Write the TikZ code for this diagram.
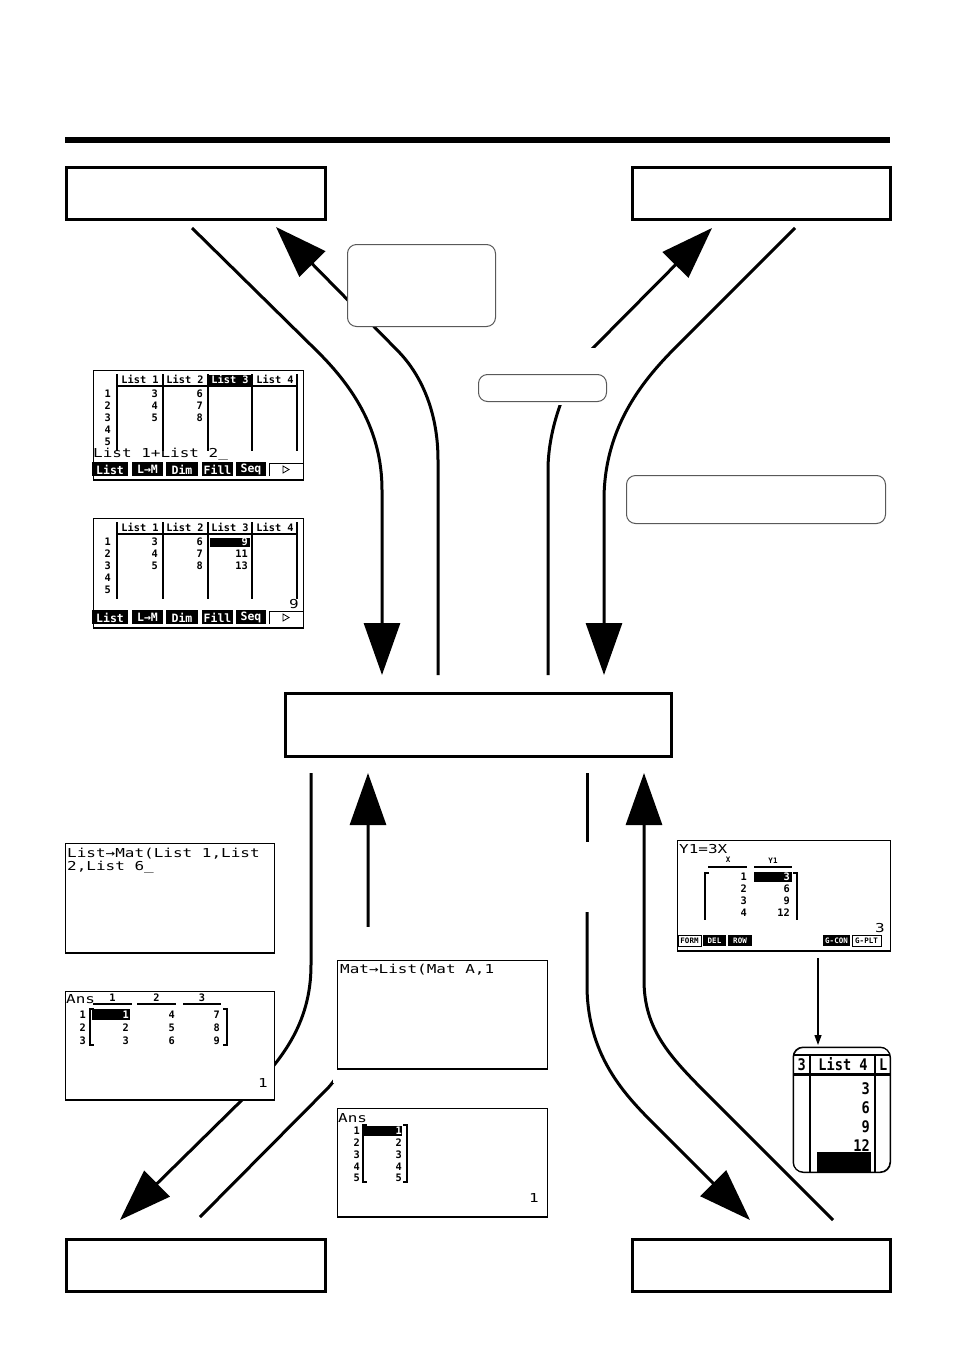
\documentclass[tikz,border=0pt]{standalone}
\usepackage{fontspec}
\usetikzlibrary{arrows.meta}
\newfontfamily\calcL[FakeStretch=1.3]{DejaVu Sans Mono}
\newfontfamily\calcS{DejaVu Sans Mono}
\newfontfamily\calcN[FakeStretch=0.85]{DejaVu Sans Mono}

\tikzset{
 bigtxt/.style={font=\calcL\fontsize{12.3}{12.3}\selectfont, inner sep=0pt},
 smtxt/.style={font=\calcS\bfseries\fontsize{10.3}{10.3}\selectfont, inner sep=0pt},
 tinytxt/.style={font=\calcS\bfseries\fontsize{7.5}{7.5}\selectfont, inner sep=0pt},
 keytxt/.style={font=\calcS\bfseries\fontsize{11.5}{11.5}\selectfont, inner sep=0pt, text=white},
 zoomtxt/.style={font=\calcN\bfseries\fontsize{16}{16}\selectfont, inner sep=0pt},
 mainbox/.style={draw, line width=3pt, fill=white, inner sep=0pt, anchor=north west},
 softbox/.style={draw=black!65, line width=1pt, rounded corners=9pt, fill=white, inner sep=0pt, anchor=north west},
 screen/.style={draw, line width=0.9pt, fill=white, inner sep=0pt, anchor=north west},
 flow/.style={line width=3pt},
 bighead/.style={-{Triangle[length=52pt,width=36pt]}},
 grid/.style={line width=1.3pt},
 thickrule/.style={line width=2pt},
 inv/.style={text=white},
}

% list editor screen (coordinates of the upper one)
\newcommand\listscreen[1]{%
 \node[screen, minimum width=210pt, minimum height=109pt] (#1) at (93,370) {};
 \draw[line width=2.5pt] (#1.south west) -- (#1.south east);
 \foreach \x in {117,163,208,252,297} \draw[grid] (\x,374) -- (\x,451);
 \draw[thickrule] (117,386) -- (297,386);
 \node[smtxt, anchor=base] (#1h1) at (140,383) {List 1};
 \node[smtxt, anchor=base] (#1h2) at (185,383) {List 2};
 \node[smtxt, anchor=base] (#1h4) at (275,383) {List 4};
 \foreach \i in {1,...,5} \node[smtxt, anchor=east] (#1r\i) at (111,{394+12*(\i-1)}) {\i};
 \foreach \v [count=\i] in {3,4,5} \node[smtxt, anchor=east] (#1a\i) at (158,{394+12*(\i-1)}) {\v};
 \foreach \v [count=\i] in {6,7,8} \node[smtxt, anchor=east] (#1b\i) at (203,{394+12*(\i-1)}) {\v};
 \foreach \a/\b/\t [count=\k] in {92/128/List,132/163/L→M,166/198/Dim,202/233/Fill,236/266/Seq}{
   \fill (\a,462) rectangle (\b,476);
   \node[keytxt] (#1k\k) at ({(\a+\b)/2},469.5) {\t};}
 \draw[line width=1pt] (269,476) -- (269,463) -- (303,463);
 \draw[line width=0.8pt] (283,466) -- (289,469.5) -- (283,473) -- cycle;
}

\begin{document}
\begin{tikzpicture}[x=1pt,y=-1pt]
\fill[white] (0,0) rectangle (954,1355);
\useasboundingbox (0,0) rectangle (954,1355);

\coordinate (rule0) at (65,140);
\coordinate (rule1) at (890,140);
\draw[line width=6pt] (rule0) -- (rule1);

% ---------- upper flows
\coordinate (a0) at (192,228); \coordinate (a1) at (382,675);
\draw[flow,bighead] (a0) -- (318,352) .. controls (353,387) and (382,430) .. (382,490) -- (a1);
\coordinate (b0) at (438,675); \coordinate (b1) at (276,227);
\draw[flow,bighead] (b0) -- (438,460) .. controls (438,410) and (420,373) .. (397,350) -- (b1);
\coordinate (c0) at (548,675); \coordinate (c1) at (712,228);
\draw[flow,bighead] (c0) -- (548,470) .. controls (548,425) and (569,372) .. (594,347) -- (c1);
\coordinate (d0) at (795,228); \coordinate (d1) at (604,675);
\draw[flow,bighead] (d0) -- (675,348) .. controls (640,383) and (604,430) .. (604,500) -- (d1);

% ---------- lower flows
\coordinate (e0) at (311,773); \coordinate (e1) at (120,1220);
\draw[flow,bighead] (e0) -- (311,965) .. controls (311,1025) and (280,1062) .. (245,1097) -- (e1);
\coordinate (f0) at (200,1217); \coordinate (f1) at (368,773);
\draw[flow,bighead] (f0) -- (328,1088) .. controls (353,1060) and (368,1010) .. (368,960) -- (f1);
\coordinate (g0) at (587,773); \coordinate (g1) at (587,842);
\draw[flow] (g0) -- (g1);
\coordinate (g2) at (587,912); \coordinate (g3) at (750,1220);
\draw[flow,bighead] (g2) -- (587,985) .. controls (587,1060) and (630,1100) .. (660,1130) -- (g3);
\coordinate (h0) at (833,1220); \coordinate (h1) at (644,773);
\draw[flow,bighead] (h0) -- (710,1097) .. controls (670,1057) and (644,1030) .. (644,980) -- (h1);

% gaps
\fill[white] (474,348) rectangle (612,405);
\fill[white] (333,927) rectangle (552,1083);

% ---------- boxes
\node[mainbox, minimum width=259pt, minimum height=52pt] (tl) at (65,166) {};
\node[mainbox, minimum width=258pt, minimum height=52pt] (tr) at (631,166) {};
\node[mainbox, minimum width=386pt, minimum height=63pt] (ctr) at (284,692) {};
\node[mainbox, minimum width=259pt, minimum height=52pt] (bl) at (65,1238) {};
\node[mainbox, minimum width=258pt, minimum height=52pt] (br) at (631,1238) {};
\node[softbox, minimum width=148pt, minimum height=82pt] (sb1) at (347,244) {};
\node[softbox, minimum width=128pt, minimum height=27pt] (sb2) at (478,374) {};
\node[softbox, minimum width=259pt, minimum height=48pt] (sb3) at (626,475) {};

% ---------- screen 1
\listscreen{sa}
\fill (209,375) rectangle (252,385);
\node[smtxt, anchor=base, inv] (sah3) at (230,383) {List 3};
\node[bigtxt, anchor=base west] (sacmd) at (93,457) {List 1+List 2\_};

% ---------- screen 2
\begin{scope}[shift={(0,148)}]
\listscreen{sb}
\node[smtxt, anchor=base] (sbh3) at (230,383) {List 3};
\fill (210,389.5) rectangle (250,399);
\node[smtxt, anchor=east, inv] (sbc1) at (248,394) {9};
\node[smtxt, anchor=east] (sbc2) at (248,406) {11};
\node[smtxt, anchor=east] (sbc3) at (248,418) {13};
\node[bigtxt, anchor=base east] (sbans) at (299,460) {9};
\end{scope}

% ---------- screen 3
\node[screen, minimum width=209pt, minimum height=109pt] (sc) at (65,843) {};
\draw[line width=2.5pt] (sc.south west) -- (sc.south east);
\node[bigtxt, anchor=base west] (sc1) at (67,857) {List→Mat(List 1,List};
\node[bigtxt, anchor=base west] (sc2) at (67,870) {2,List 6\_};

% ---------- screen 4
\node[screen, minimum width=209pt, minimum height=108pt] (sd) at (65,991) {};
\draw[line width=2.5pt] (sd.south west) -- (sd.south east);
\node[bigtxt, anchor=base west] (sdans) at (66,1003) {Ans};
\foreach \c/\xa/\xb [count=\k] in {1/93/132,2/137/176,3/183/221}{
  \node[smtxt, anchor=base] (sdh\k) at ({(\xa+\xb)/2},1001) {\c};
  \draw[line width=1.5pt] (\xa,1004) -- (\xb,1004);}
\foreach \i in {1,2,3} \node[smtxt, anchor=east] (sdr\i) at (86,{1014.5+13*(\i-1)}) {\i};
\draw[line width=1.2pt] (94,1009) -- (90,1009) -- (90,1045) -- (94,1045);
\draw[line width=1.2pt] (223,1009) -- (227,1009) -- (227,1045) -- (223,1045);
\fill (92,1009) rectangle (130,1019.5);
\node[smtxt, anchor=east, inv] (sdc1) at (129,1014.5) {1};
\node[smtxt, anchor=east] (sdc2) at (129,1027.5) {2};
\node[smtxt, anchor=east] (sdc3) at (129,1040.5) {3};
\foreach \v [count=\i] in {4,5,6} \node[smtxt, anchor=east] (sde\i) at (175,{1014.5+13*(\i-1)}) {\v};
\foreach \v [count=\i] in {7,8,9} \node[smtxt, anchor=east] (sdf\i) at (220,{1014.5+13*(\i-1)}) {\v};
\node[bigtxt, anchor=base east] (sdone) at (268,1087) {1};

% ---------- screen 5
\node[screen, minimum width=210pt, minimum height=108pt] (se) at (337,960) {};
\draw[line width=2.5pt] (se.south west) -- (se.south east);
\node[bigtxt, anchor=base west] (se1) at (340,973) {Mat→List(Mat A,1};

% ---------- screen 6
\node[screen, minimum width=210pt, minimum height=108pt] (sf) at (337,1108) {};
\draw[line width=2.5pt] (sf.south west) -- (sf.south east);
\node[bigtxt, anchor=base west] (sfans) at (338,1122) {Ans};
\draw[line width=1.2pt] (367,1125) -- (363,1125) -- (363,1182) -- (367,1182);
\draw[line width=1.2pt] (403,1125) -- (407,1125) -- (407,1182) -- (403,1182);
\fill (364,1125.5) rectangle (402,1135.5);
\foreach \i in {1,...,5}
  \node[smtxt, anchor=east] (sfr\i) at (360,{1131+11.75*(\i-1)}) {\i};
\node[smtxt, anchor=east, inv] (sfc1) at (402,1131) {1};
\foreach \i in {2,...,5}
  \node[smtxt, anchor=east] (sfc\i) at (402,{1131+11.75*(\i-1)}) {\i};
\node[bigtxt, anchor=base east] (sfone) at (539,1202) {1};

% ---------- screen 7
\node[screen, minimum width=213pt, minimum height=110pt] (sg) at (677,840) {};
\draw[line width=2.5pt] (sg.south west) -- (sg.south east);
\node[bigtxt, anchor=base west] (sgy) at (679,853) {Y1=3X};
\node[tinytxt, anchor=base] (sghx) at (728,862) {X};
\node[tinytxt, anchor=base] (sghy) at (773,863) {Y1};
\draw[line width=1.5pt] (708,867) -- (747,867);
\draw[line width=1.5pt] (754,867) -- (792,867);
\draw[line width=1.2pt] (709,873) -- (705,873) -- (705,920);
\draw[line width=1.2pt] (793,873) -- (797,873) -- (797,920);
\fill (754,872) rectangle (792,882);
\foreach \v [count=\i] in {1,2,3,4} \node[smtxt, anchor=east] (sgx\i) at (747,{877+12*(\i-1)}) {\v};
\node[smtxt, anchor=east, inv] (sgv1) at (790,877) {3};
\node[smtxt, anchor=east] (sgv2) at (790,889) {6};
\node[smtxt, anchor=east] (sgv3) at (790,901) {9};
\node[smtxt, anchor=east] (sgv4) at (790,913) {12};
\node[bigtxt, anchor=base east] (sgthree) at (885,932) {3};
\draw[line width=0.8pt, fill=white] (678,935) rectangle (701,946);
\node[tinytxt] (sgk1) at (689.5,940.5) {FORM};
\fill (703,935) rectangle (726,946);
\node[tinytxt, inv] (sgk2) at (714.5,940.5) {DEL};
\fill (728,935) rectangle (752,946);
\node[tinytxt, inv] (sgk3) at (740,940.5) {ROW};
\fill (823,935) rectangle (850,946);
\node[tinytxt, inv] (sgk4) at (836.5,940.5) {G-CON};
\draw[line width=0.8pt, fill=white] (852,935) rectangle (881,946);
\node[tinytxt] (sgk5) at (866.5,940.5) {G-PLT};

% ---------- small arrow and zoomed column
\coordinate (z0) at (818,958); \coordinate (z1) at (818,1045);
\draw[line width=1.2pt, -{Triangle[length=10pt,width=7pt]}] (z0) -- (z1);
\node[draw, line width=1pt, rounded corners=10pt, fill=white, inner sep=0pt, anchor=north west,
      minimum width=97pt, minimum height=125pt] (sh) at (793,1047) {};
\begin{scope}
\clip[rounded corners=10pt] (793,1047) rectangle (890,1172);
\draw[grid] (793,1055) -- (890,1055);
\draw[grid] (810,1055) -- (810,1172);
\draw[grid] (875,1055) -- (875,1172);
\draw[line width=2.5pt] (793,1074.5) -- (890,1074.5);
\fill (817,1152) rectangle (871,1172);
\end{scope}
\draw[line width=1pt, rounded corners=10pt] (793,1047) rectangle (890,1172);
\node[zoomtxt, anchor=base east] (shh3) at (806,1070) {3};
\node[zoomtxt, anchor=base] (shh4) at (843,1070) {List 4};
\node[zoomtxt, anchor=base west] (shhl) at (879,1070) {L};
\foreach \v/\y [count=\i] in {3/1089,6/1108,9/1127,12/1146} \node[zoomtxt, anchor=east] (shv\i) at (870,\y) {\v};
\end{tikzpicture}
\end{document}
